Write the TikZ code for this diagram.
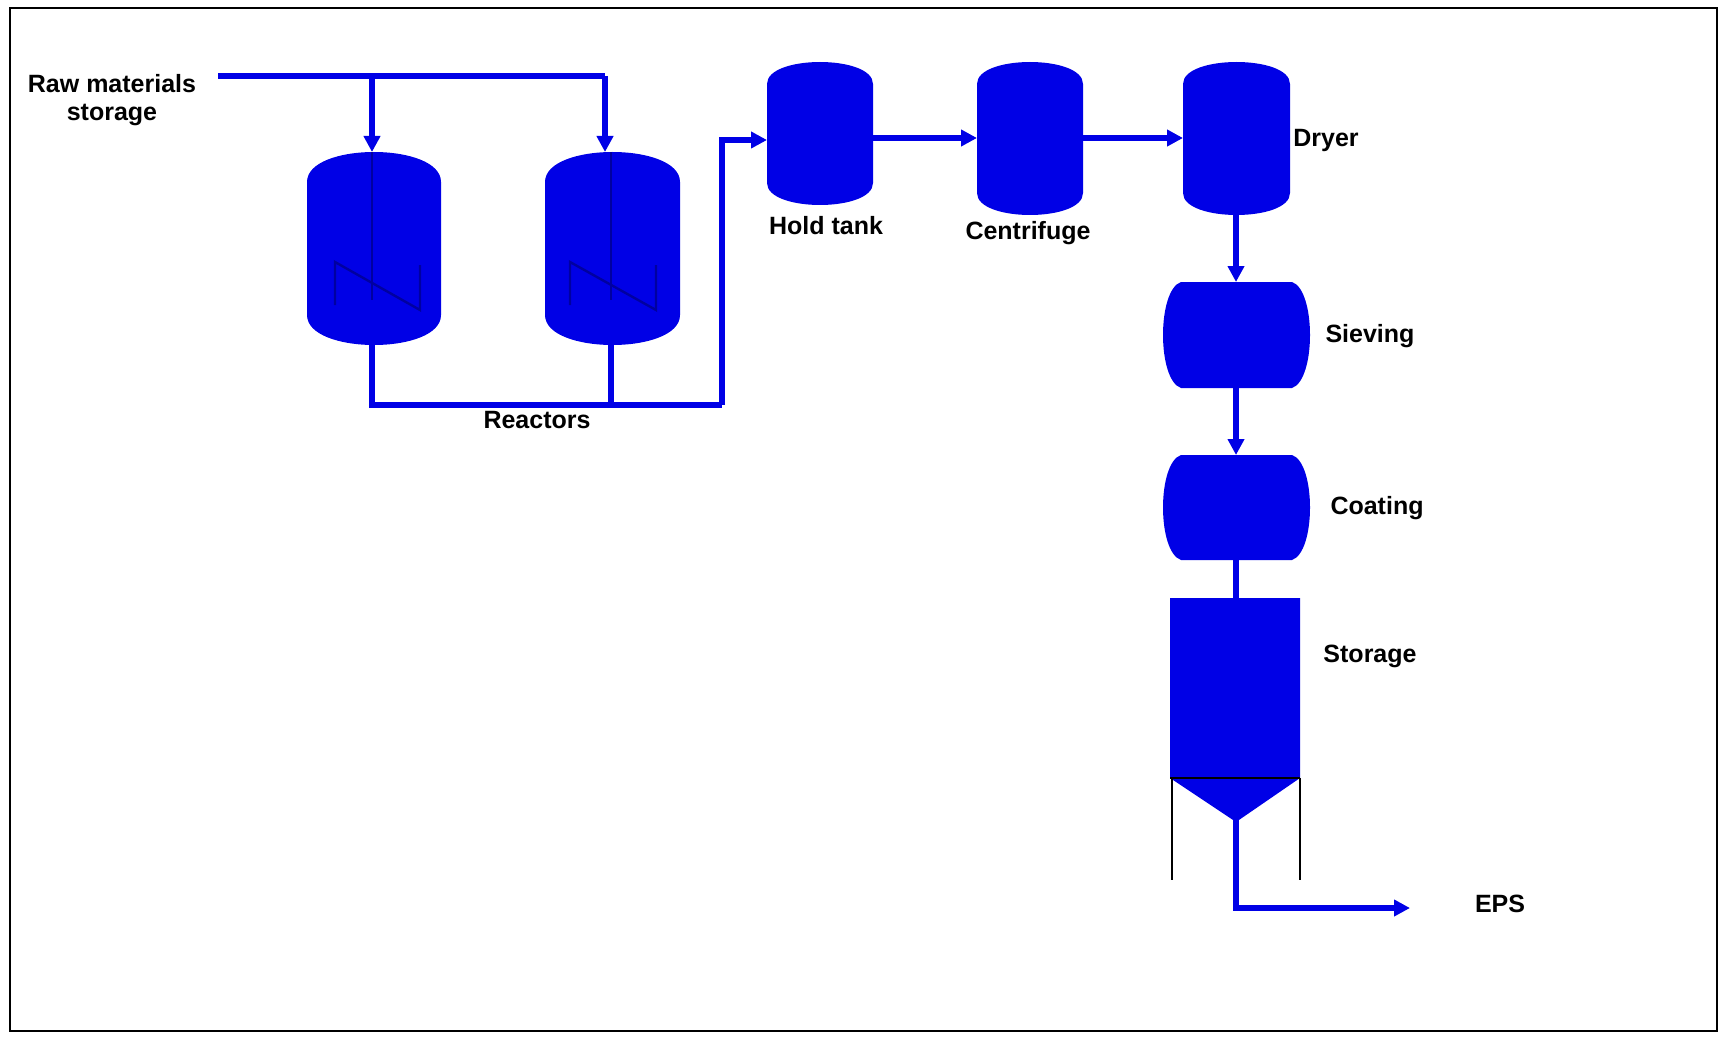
\documentclass[tikz,border=0pt]{standalone}
\usepackage{fontspec}
\setmainfont{Liberation Sans}
\usetikzlibrary{arrows.meta}
\definecolor{eq}{RGB}{0,0,230}
\definecolor{dk}{RGB}{0,0,160}
\newcommand{\vessel}[5]{% x1 y1 x2 y2 cap
  \fill[eq] (#1,#2+#5) .. controls (#1,#2-#5/3) and (#3,#2-#5/3) .. (#3,#2+#5) -- (#3,#4-#5) .. controls (#3,#4+#5/3) and (#1,#4+#5/3) .. (#1,#4-#5) -- cycle;}
\newcommand{\barrel}[4]{%
  \fill[eq] (#1+18,#2) -- (#3-18,#2) .. controls (#3+6,#2+8) and (#3+6,#4-8) .. (#3-18,#4) -- (#1+18,#4) .. controls (#1-6,#4-8) and (#1-6,#2+8) .. cycle;}
\begin{document}
\begin{tikzpicture}[x=0.5pt,y=-0.5pt,
  pipe/.style={draw=eq,line width=2.6pt},
  arr/.style={pipe,-{Triangle[length=8pt,width=8pt]}},
  lbl/.style={font=\bfseries\fontsize{12.5}{14}\selectfont,align=center}]
\useasboundingbox (0,0) rectangle (1727,1043);
\draw[black,line width=0.8pt] (10,8) rectangle (1717,1031);
% named points
\coordinate (raw) at (218,76);
\coordinate (j1) at (372,76);
\coordinate (j2) at (605,76);
\coordinate (r1t) at (372,152);
\coordinate (r2t) at (605,152);
\coordinate (r1b) at (372,330);
\coordinate (r2b) at (611,330);
\coordinate (c1) at (372,405);
\coordinate (c2) at (722,405);
\coordinate (c3) at (722,140);
\coordinate (ht) at (767,140);
\coordinate (hto) at (860,138);
\coordinate (cfi) at (977,138);
\coordinate (cfo) at (1070,138);
\coordinate (dri) at (1183,138);
\coordinate (drb) at (1236,200);
\coordinate (svt) at (1236,282);
\coordinate (svb) at (1236,380);
\coordinate (cot) at (1236,455);
\coordinate (cob) at (1236,550);
\coordinate (stt) at (1236,605);
\coordinate (stb) at (1236,815);
\coordinate (o1) at (1236,908);
\coordinate (eps) at (1410,908);
% pipes (under the vessels)
\draw[pipe] (raw) -- (j2);
\draw[arr] (j1) -- (r1t);
\draw[arr] (j2) -- (r2t);
\draw[pipe] (r1b) -- (c1) -- (c2);
\draw[pipe] (r2b) -- (611,405);
\draw[arr] (c2) -- (c3) -- (ht);
\draw[arr] (hto) -- (cfi);
\draw[arr] (cfo) -- (dri);
\draw[arr] (drb) -- (svt);
\draw[arr] (svb) -- (cot);
\draw[pipe] (cob) -- (stt);
\draw[arr] (stb) -- (o1) -- (eps);
% vessels
\vessel{307}{152}{441}{345}{30}
\vessel{545}{152}{680}{345}{30}
\vessel{767}{62}{873}{205}{22}
\vessel{977}{62}{1083}{215}{22}
\vessel{1183}{62}{1290}{215}{22}
\barrel{1163}{282}{1310}{388}
\barrel{1163}{455}{1310}{560}
\fill[eq] (1170,598) -- (1300,598) -- (1300,778) -- (1236,822) -- (1170,778) -- cycle;
\draw[black,line width=0.6pt] (1170,778) -- (1300,778);
\draw[black,line width=0.6pt] (1172,778) -- (1172,880) (1300,778) -- (1300,880);
% stirrers
\foreach \c/\l/\r in {372/335/420, 611/570/656}{
  \draw[dk,line width=1.2pt] (\c,152) -- (\c,300);
  \draw[dk,line width=1.2pt] (\l,305) -- (\l,262) -- (\r,310) -- (\r,265);
}
% labels
\node[lbl] (lraw) at (112,100) {Raw materials\\storage};
\node[lbl] (lre) at (537,420) {Reactors};
\node[lbl] (lho) at (826,226) {Hold tank};
\node[lbl] (lce) at (1028,233) {Centrifuge};
\node[lbl] (ldr) at (1326,140) {Dryer};
\node[lbl] (lsi) at (1370,336) {Sieving};
\node[lbl] (lco) at (1377,508) {Coating};
\node[lbl] (lst) at (1370,656) {Storage};
\node[lbl] (leps) at (1500,904) {EPS};
\end{tikzpicture}
\end{document}
